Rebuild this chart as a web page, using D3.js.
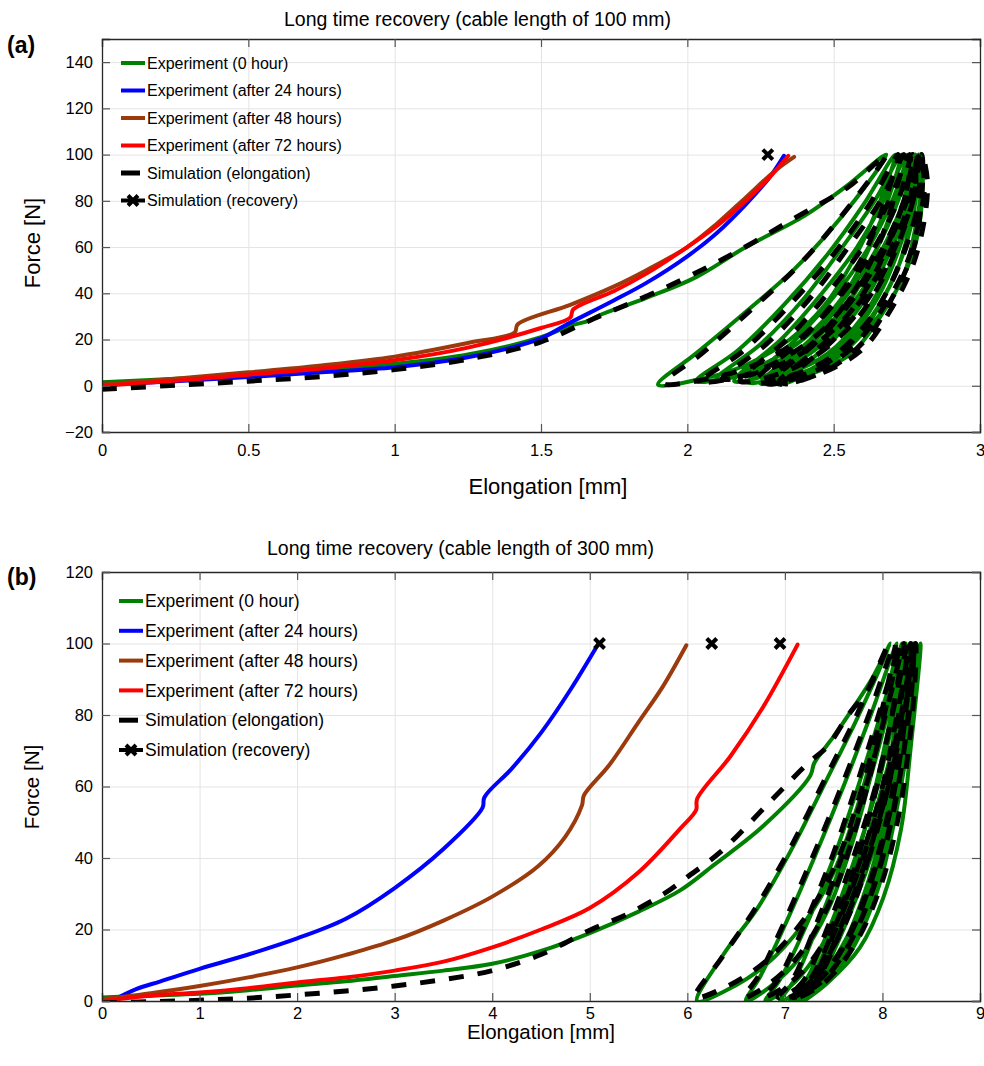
<!DOCTYPE html>
<html>
<head>
<meta charset="utf-8">
<script src="https://cdn.jsdelivr.net/npm/d3@7"></script>
<style>
  body { margin: 0; background: #fff; }
  svg text { font-family: "Liberation Sans", Arial, sans-serif; fill: #000; }
</style>
</head>
<body>
<svg id="chart" width="984" height="1066"></svg>
<script>
// ---------- shared labels ----------
const legendNames = [
  "Experiment (0 hour)",
  "Experiment (after 24 hours)",
  "Experiment (after 48 hours)",
  "Experiment (after 72 hours)",
  "Simulation (elongation)",
  "Simulation (recovery)"
];
const seriesColors = ["#008000", "#0000ff", "#9b3a0c", "#ff0000", "#000000", "#000000"];

// ---------- panel (a): cable length 100 mm ----------
const aTitle = "Long time recovery (cable length of 100 mm)";
const aXTicks = [0, 0.5, 1, 1.5, 2, 2.5, 3];
const aYTicks = [-20, 0, 20, 40, 60, 80, 100, 120, 140];

const aGreen = [
  [0,1.5],[0.25,3],[0.5,4.5],[0.75,6.5],[1.0,9.5],[1.25,13.5],[1.5,21],[1.6,26],[1.66,28],[1.7,30.5],
  [1.86,38],[2.03,47],[2.2,60],[2.4,73.5],[2.54,86],[2.68,100],
  [2.52,72],[2.37,51],[2.2,32],[2.03,14],[1.9,0.5],
  [2.05,3],[2.2,9],[2.35,20],[2.47,35],[2.57,55],[2.65,77],[2.71,100],
  [2.6,78],[2.48,57],[2.33,35],[2.17,15],[2.03,2],
  [2.15,4],[2.3,12],[2.44,25],[2.55,42],[2.63,62],[2.69,82],[2.73,100],
  [2.64,80],[2.53,60],[2.4,38],[2.25,18],[2.1,3],
  [2.22,6],[2.36,14],[2.5,28],[2.6,46],[2.67,66],[2.72,85],[2.75,100],
  [2.67,80],[2.58,60],[2.46,40],[2.32,20],[2.16,2],
  [2.28,5],[2.42,14],[2.55,29],[2.64,47],[2.71,68],[2.75,86],[2.76,100],
  [2.7,80],[2.62,60],[2.51,40],[2.37,20],[2.21,1.5],
  [2.34,5],[2.48,14],[2.6,30],[2.68,48],[2.74,69],[2.77,87],[2.77,100],
  [2.72,80],[2.65,60],[2.55,40],[2.42,20],[2.25,1],
  [2.38,5],[2.52,14],[2.63,30],[2.71,48],[2.76,69],[2.78,87],[2.78,100],
  [2.74,80],[2.68,60],[2.59,40],[2.46,20],[2.29,1],
  [2.42,5],[2.56,14],[2.66,30],[2.74,48],[2.78,69],[2.8,87],[2.79,100],
  [2.76,80],[2.7,60],[2.62,40],[2.5,20],[2.32,0.5],
  [2.5,12],[2.64,28],[2.73,45],[2.79,67],[2.8,99],
  [2.75,80],[2.69,60],[2.6,40],[2.47,20],[2.3,1],
  [2.45,7],[2.58,20],[2.67,38],[2.74,58],[2.78,80],[2.79,100],
  [2.74,80],[2.67,60],[2.57,40],[2.44,20],[2.27,1],
  [2.42,7],[2.55,20],[2.65,38],[2.72,58],[2.77,80],[2.8,100]
];
const aBlue = [
  [0,0.3],[0.25,2],[0.5,3.8],[0.75,5.8],[1.0,8],[1.25,12.3],[1.5,20.5],[1.58,26],[1.75,37],
  [1.86,44.5],[2.0,56],[2.1,66],[2.2,78.5],[2.28,90],[2.33,99.5]
];
const aBrown = [
  [0,0.5],[0.25,3],[0.5,5.8],[0.75,8.8],[1.0,12.6],[1.25,18.5],[1.41,23],[1.42,26.5],[1.6,35],
  [1.75,43],[1.86,50],[2.0,60],[2.1,70],[2.2,81.5],[2.3,93],[2.365,99]
];
const aRed = [
  [0,0],[0.25,2.2],[0.5,4.8],[0.75,7.5],[1.0,11],[1.25,16.5],[1.5,25],[1.6,29.5],[1.61,33],
  [1.75,41],[1.86,48.5],[2.0,60],[2.1,69],[2.2,80],[2.28,90],[2.345,99.5]
];
const aSim = [
  [0,-1.5],[0.25,0.2],[0.5,2],[0.75,4],[1.0,7],[1.25,11.5],[1.5,19],[1.68,29],[1.9,41],
  [2.14,56],[2.38,73.5],[2.55,86],[2.68,100],
  [2.53,74],[2.38,52],[2.21,32],[2.05,14],[1.92,1],
  [2.07,3],[2.23,9],[2.38,20],[2.5,36],[2.6,56],[2.67,78],[2.72,100],
  [2.62,78],[2.5,57],[2.35,35],[2.19,15],[2.05,2],
  [2.18,4],[2.33,12],[2.47,25],[2.58,43],[2.66,63],[2.71,83],[2.74,100],
  [2.66,80],[2.55,60],[2.42,38],[2.27,18],[2.12,3],
  [2.25,6],[2.39,14],[2.53,28],[2.63,46],[2.7,66],[2.75,85],[2.76,100],
  [2.69,80],[2.6,60],[2.48,40],[2.34,20],[2.18,2],
  [2.31,5],[2.45,14],[2.58,29],[2.67,47],[2.74,68],[2.78,86],[2.77,100],
  [2.72,80],[2.64,60],[2.53,40],[2.39,20],[2.23,1.5],
  [2.37,5],[2.51,14],[2.63,30],[2.71,48],[2.77,69],[2.8,87],[2.78,100],
  [2.74,80],[2.67,60],[2.57,40],[2.44,20],[2.27,1],
  [2.41,5],[2.55,15],[2.66,32],[2.74,50],[2.79,70],[2.81,88],[2.79,100],
  [2.76,80],[2.7,60],[2.61,40],[2.48,20],[2.31,1],
  [2.45,5],[2.6,16],[2.7,34],[2.77,52],[2.81,72],[2.82,89],[2.8,100],
  [2.77,80],[2.71,60],[2.63,40],[2.5,20],[2.33,1],
  [2.48,7],[2.61,20],[2.7,38],[2.77,58],[2.8,80],[2.8,100],
  [2.75,80],[2.68,60],[2.58,40],[2.45,20],[2.28,1],
  [2.44,7],[2.57,20],[2.67,38],[2.74,58],[2.79,80],[2.79,100]
];
const aRecovery = [[2.275, 100]];

// ---------- panel (b): cable length 300 mm ----------
const bTitle = "Long time recovery (cable length of 300 mm)";
const bXTicks = [0, 1, 2, 3, 4, 5, 6, 7, 8, 9];
const bYTicks = [0, 20, 40, 60, 80, 100, 120];

const bGreen = [
  [0,1],[0.5,1.5],[1,2],[1.5,3],[2,4.3],[2.5,5.5],[3,7],[3.5,8.5],[4,10.4],[4.5,14],[5,19],[5.5,25],
  [5.93,31],[6.27,38],[6.78,49],[7.26,63],[7.3,66.5],[7.5,74],[7.7,82],[7.9,90.5],[8.08,100],
  [7.74,79],[7.43,62],[7.06,42],[6.72,26],[6.37,13],[6.1,0],
  [6.4,3],[6.8,10],[7.2,22],[7.5,36],[7.75,55],[7.95,75],[8.15,100],
  [7.88,80],[7.6,60],[7.3,40],[6.98,20],[6.75,7],[6.6,0],
  [6.85,4],[7.15,12],[7.45,26],[7.7,45],[7.9,65],[8.05,83],[8.2,100],
  [7.98,80],[7.75,60],[7.5,40],[7.2,20],[6.95,6],[6.8,0],
  [7.05,4],[7.3,12],[7.58,27],[7.8,46],[7.98,66],[8.12,84],[8.24,100],
  [8.05,80],[7.85,60],[7.6,40],[7.32,20],[7.1,6],[6.95,0],
  [7.2,4],[7.45,13],[7.7,28],[7.9,47],[8.07,67],[8.18,85],[8.28,100],
  [8.12,80],[7.95,60],[7.72,40],[7.45,20],[7.22,6],[7.05,0],
  [7.3,4],[7.55,13],[7.8,29],[8.0,48],[8.14,68],[8.24,85],[8.3,100],
  [8.17,80],[8.02,60],[7.8,40],[7.52,20],[7.28,6],[7.1,0],
  [7.36,4],[7.62,14],[7.88,30],[8.07,49],[8.2,69],[8.28,86],[8.33,100],
  [8.22,80],[8.08,60],[7.88,40],[7.6,20],[7.35,6],[7.15,0],
  [7.4,4.5],[7.68,14],[7.95,31],[8.12,50],[8.25,70],[8.32,87],[8.35,100],
  [8.26,80],[8.13,60],[7.95,40],[7.68,20],[7.42,6],[7.19,0],
  [7.43,4.9],[7.77,15],[8.01,29],[8.19,48],[8.29,71],[8.39,100],
  [8.25,80],[8.08,60],[7.86,40],[7.58,20],[7.35,6],[7.12,0],
  [7.42,6],[7.7,17],[7.94,33],[8.12,52],[8.24,72],[8.34,100],
  [8.2,80],[8.04,60],[7.82,40],[7.55,20],[7.3,6],[7.08,0],
  [7.38,6],[7.66,17],[7.9,33],[8.08,52],[8.21,72],[8.31,100],
  [8.18,80],[8.0,60],[7.78,40],[7.5,20],[7.26,6],[7.05,0],
  [7.35,6],[7.62,17],[7.86,33],[8.05,52],[8.19,72],[8.3,100]
];
const bBlue = [
  [0.1,0],[0.35,3.3],[0.6,5.5],[1.0,9],[1.5,13],[2.0,17.5],[2.5,23],[3.0,31.6],[3.5,42.5],
  [3.9,54],[3.92,57],[4.2,65],[4.5,75],[4.8,87],[5.09,100]
];
const bBrown = [
  [0,0.5],[0.5,2.2],[1,4.2],[1.5,6.6],[2,9.4],[2.5,12.9],[3,17],[3.5,22.5],[4,29.2],[4.47,37.7],
  [4.75,46],[4.92,54.7],[4.94,57.5],[5.2,66],[5.5,78],[5.75,88],[5.99,99.5]
];
const bRed = [
  [0,0],[0.5,1.5],[1,2.4],[1.5,3.6],[2,5.2],[2.5,6.6],[3,8.5],[3.5,11],[4,15],[4.5,20],[5,26],
  [5.5,36],[5.93,48.3],[6.09,53.4],[6.1,56.5],[6.44,68.4],[6.78,82.4],[7.13,99.7]
];
const bSim = [
  [0,-0.5],[0.5,-0.2],[1,0.2],[1.5,0.8],[2,1.7],[2.5,2.8],[3,4.2],[3.5,6],[4,8.5],[4.5,13],[5,19.8],
  [5.4,24.5],[5.76,30],[6.0,34.7],[6.34,41.7],[6.85,55.8],[7.24,66.6],[7.43,71],[7.65,80],[7.87,88],[8.06,100],
  [7.72,79],[7.41,62],[7.04,42],[6.7,26],[6.35,12],[6.08,1],
  [6.4,4],[6.8,11],[7.2,23],[7.5,37],[7.75,56],[7.95,76],[8.13,100],
  [7.86,80],[7.58,60],[7.28,40],[6.96,20],[6.73,7],[6.58,1],
  [6.85,5],[7.15,13],[7.45,27],[7.7,46],[7.9,66],[8.05,84],[8.18,100],
  [7.96,80],[7.73,60],[7.48,40],[7.18,20],[6.93,6],[6.78,1],
  [7.05,5],[7.32,13],[7.6,28],[7.82,47],[8.0,67],[8.13,85],[8.22,100],
  [8.03,80],[7.83,60],[7.58,40],[7.3,20],[7.08,6],[6.93,1],
  [7.2,5],[7.47,14],[7.73,29],[7.93,48],[8.09,68],[8.2,86],[8.26,100],
  [8.1,80],[7.93,60],[7.7,40],[7.43,20],[7.2,6],[7.03,1],
  [7.3,5],[7.57,14],[7.83,30],[8.03,49],[8.17,69],[8.26,86],[8.29,100],
  [8.15,80],[8.0,60],[7.78,40],[7.5,20],[7.26,6],[7.08,1],
  [7.36,5],[7.64,15],[7.9,31],[8.09,50],[8.22,70],[8.3,87],[8.32,100],
  [8.2,80],[8.06,60],[7.86,40],[7.58,20],[7.33,6],[7.13,1],
  [7.4,5],[7.72,16],[7.98,32],[8.16,51],[8.27,71],[8.33,88],[8.34,100],
  [8.22,80],[8.06,60],[7.84,40],[7.56,20],[7.32,6],[7.1,1],
  [7.4,6],[7.68,17],[7.92,33],[8.1,52],[8.23,72],[8.32,100],
  [8.19,80],[8.02,60],[7.8,40],[7.52,20],[7.28,6],[7.06,1],
  [7.36,6],[7.64,17],[7.88,33],[8.07,52],[8.2,72],[8.3,100]
];
const bRecovery = [[5.1, 100], [6.25, 100], [6.95, 100]];

// ---------- drawing ----------
const svg = d3.select("#chart");

const xMarkPath = "M-5,-5L5,5M-5,5L5,-5";

function drawPanel(cfg) {
  const g = svg.append("g");
  const x = d3.scaleLinear().domain(cfg.xDomain).range([cfg.left, cfg.right]);
  const y = d3.scaleLinear().domain(cfg.yDomain).range([cfg.bottom, cfg.top]);
  const w = cfg.right - cfg.left, h = cfg.bottom - cfg.top;

  // grid
  const grid = g.append("g").attr("class", "grid");
  grid.append("g").attr("transform", `translate(0,${cfg.bottom})`)
    .call(d3.axisBottom(x).tickValues(cfg.xTicks).tickSize(-h).tickFormat(""));
  grid.append("g").attr("transform", `translate(${cfg.left},0)`)
    .call(d3.axisLeft(y).tickValues(cfg.yTicks).tickSize(-w).tickFormat(""));
  grid.selectAll(".domain").remove();
  grid.selectAll("line").attr("stroke", "#e4e4e4").attr("stroke-width", 1);

  // data
  const clipId = "clip-" + cfg.id;
  g.append("clipPath").attr("id", clipId).append("rect")
    .attr("x", cfg.left).attr("y", cfg.top).attr("width", w).attr("height", h);
  const plot = g.append("g").attr("clip-path", `url(#${clipId})`);
  const line = d3.line().x(d => x(d[0])).y(d => y(d[1])).curve(d3.curveCatmullRom.alpha(0.5));

  cfg.series.forEach(s => {
    const p = plot.append("path").datum(s.data)
      .attr("fill", "none").attr("stroke", s.color)
      .attr("stroke-width", s.width).attr("stroke-linejoin", "round")
      .attr("d", line);
    if (s.dash) p.attr("stroke-dasharray", s.dash).attr("stroke-linecap", "butt");
    else p.attr("stroke-linecap", "round");
  });
  plot.selectAll(".rec").data(cfg.recovery).join("path")
    .attr("transform", d => `translate(${x(d[0])},${y(d[1])})`)
    .attr("d", xMarkPath).attr("stroke", "#000").attr("stroke-width", 4).attr("fill", "none");

  // axes (inward ticks on all four sides)
  const axColor = "#262626";
  const axB = g.append("g").attr("transform", `translate(0,${cfg.bottom})`)
    .call(d3.axisBottom(x).tickValues(cfg.xTicks).tickSize(-8).tickPadding(cfg.xPad).tickFormat(d3.format("")));
  const axT = g.append("g").attr("transform", `translate(0,${cfg.top})`)
    .call(d3.axisTop(x).tickValues(cfg.xTicks).tickSize(-8).tickFormat(""));
  const axL = g.append("g").attr("transform", `translate(${cfg.left},0)`)
    .call(d3.axisLeft(y).tickValues(cfg.yTicks).tickSize(-8).tickPadding(9).tickFormat(d3.format("")));
  const axR = g.append("g").attr("transform", `translate(${cfg.right},0)`)
    .call(d3.axisRight(y).tickValues(cfg.yTicks).tickSize(-8).tickFormat(""));
  [axB, axT, axL, axR].forEach(a => {
    a.selectAll(".domain").attr("stroke", axColor).attr("stroke-width", 1.3);
    a.selectAll("line").attr("stroke", "#555").attr("stroke-width", 1.2);
    a.selectAll("text").attr("font-size", cfg.tickFont).attr("fill", "#000")
      .attr("font-family", '"Liberation Sans", Arial, sans-serif');
  });

  // titles and labels
  g.append("text").attr("x", cfg.titleX).attr("y", cfg.titleY)
    .attr("font-size", cfg.titleFont).text(cfg.title);
  g.append("text").attr("x", cfg.xLabelX).attr("y", cfg.xLabelY).attr("text-anchor", "middle")
    .attr("font-size", cfg.labelFont).text("Elongation [mm]");
  g.append("text").attr("transform", `translate(${cfg.yLabelX},${cfg.yLabelY}) rotate(-90)`)
    .attr("text-anchor", "middle").attr("font-size", cfg.labelFont).text("Force [N]");
  g.append("text").attr("x", 7).attr("y", cfg.tagY)
    .attr("font-family", '"Liberation Serif", "Times New Roman", serif')
    .attr("font-weight", "bold").attr("font-size", 23).text(cfg.tag);

  // legend
  const lg = g.append("g");
  legendNames.forEach((name, i) => {
    const ly = cfg.legendY0 + i * cfg.legendStep;
    if (i < 4) {
      lg.append("line").attr("x1", cfg.legendX1).attr("x2", cfg.legendX2)
        .attr("y1", ly).attr("y2", ly).attr("stroke", seriesColors[i]).attr("stroke-width", 4);
    } else if (i === 4) {
      lg.append("line").attr("x1", cfg.legendX1).attr("x2", cfg.legendX2 - 5)
        .attr("y1", ly).attr("y2", ly).attr("stroke", "#000").attr("stroke-width", 5);
    } else {
      lg.append("line").attr("x1", cfg.legendX1).attr("x2", cfg.legendX2)
        .attr("y1", ly).attr("y2", ly).attr("stroke", "#000").attr("stroke-width", 4);
      lg.append("path").attr("transform", `translate(${(cfg.legendX1 + cfg.legendX2) / 2},${ly})`)
        .attr("d", xMarkPath).attr("stroke", "#000").attr("stroke-width", 4);
    }
    lg.append("text").attr("x", cfg.legendX2 + 2).attr("y", ly).attr("dy", "0.35em")
      .attr("font-size", cfg.legendFont).text(name);
  });
}

drawPanel({
  id: "a", tag: "(a)", tagY: 53,
  left: 102, right: 980, top: 39, bottom: 432,
  xDomain: [0, 3], yDomain: [-20, 150], xTicks: aXTicks, yTicks: aYTicks,
  xPad: 12, tickFont: 16.5,
  title: aTitle, titleX: 284, titleY: 26, titleFont: 19.5,
  xLabelX: 548, xLabelY: 494, yLabelX: 40, yLabelY: 243, labelFont: 22,
  legendX1: 121, legendX2: 145, legendY0: 63, legendStep: 27.5, legendFont: 16,
  series: [
    { data: aGreen, color: seriesColors[0], width: 4 },
    { data: aBlue, color: seriesColors[1], width: 4 },
    { data: aBrown, color: seriesColors[2], width: 4 },
    { data: aRed, color: seriesColors[3], width: 4 },
    { data: aSim, color: "#000", width: 5, dash: "15,14" }
  ],
  recovery: aRecovery
});

drawPanel({
  id: "b", tag: "(b)", tagY: 585,
  left: 102, right: 980, top: 572, bottom: 1001,
  xDomain: [0, 9], yDomain: [0, 120], xTicks: bXTicks, yTicks: bYTicks,
  xPad: 6, tickFont: 16.5,
  title: bTitle, titleX: 267, titleY: 555, titleFont: 19.5,
  xLabelX: 541, xLabelY: 1039, yLabelX: 39, yLabelY: 787, labelFont: 20.5,
  legendX1: 119, legendX2: 143, legendY0: 601, legendStep: 29.8, legendFont: 17.5,
  series: [
    { data: bGreen, color: seriesColors[0], width: 4 },
    { data: bBlue, color: seriesColors[1], width: 4 },
    { data: bBrown, color: seriesColors[2], width: 4 },
    { data: bRed, color: seriesColors[3], width: 4 },
    { data: bSim, color: "#000", width: 5, dash: "15,14" }
  ],
  recovery: bRecovery
});
</script>
</body>
</html>
